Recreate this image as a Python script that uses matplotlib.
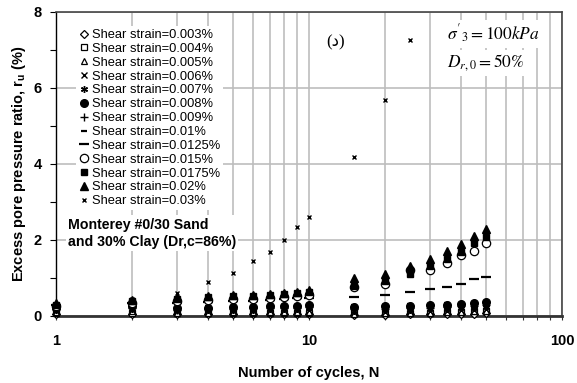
import matplotlib
matplotlib.use("Agg")
import matplotlib.pyplot as plt
from matplotlib.ticker import LogLocator, NullFormatter, FixedLocator

plt.rcParams['font.family'] = ['Liberation Sans', 'DejaVu Sans']
plt.rcParams['mathtext.fontset'] = 'stix'

cycles = [1, 2, 3, 4, 5, 6, 7, 8, 9, 10, 15, 20, 25, 30, 35, 40, 45, 50]
cycles_030 = [1, 2, 3, 4, 5, 6, 7, 8, 9, 10, 15, 20, 25]

s003 = [0.05, 0.06, 0.04, 0.04, 0.05, 0.05, 0.05, 0.05, 0.05, 0.05, 0.03, 0.03, 0.04, 0.04, 0.05, 0.05, 0.06, 0.07]
s004 = [0.08, 0.09, 0.07, 0.07, 0.08, 0.08, 0.08, 0.08, 0.08, 0.08, 0.08, 0.08, 0.09, 0.09, 0.10, 0.11, 0.12, 0.13]
s005 = [0.10, 0.12, 0.09, 0.09, 0.10, 0.10, 0.10, 0.10, 0.10, 0.10, 0.06, 0.07, 0.08, 0.09, 0.10, 0.11, 0.12, 0.14]
s006 = [0.12, 0.15, 0.12, 0.13, 0.14, 0.14, 0.15, 0.15, 0.15, 0.16, 0.10, 0.11, 0.12, 0.13, 0.14, 0.15, 0.16, 0.18]
s007 = [0.16, 0.18, 0.15, 0.16, 0.17, 0.17, 0.18, 0.18, 0.19, 0.20, 0.14, 0.15, 0.17, 0.18, 0.19, 0.20, 0.22, 0.24]
s008 = [0.22, 0.25, 0.20, 0.22, 0.24, 0.24, 0.25, 0.26, 0.27, 0.28, 0.24, 0.25, 0.27, 0.28, 0.30, 0.31, 0.33, 0.36]
s009 = [0.18, 0.20, 0.17, 0.18, 0.19, 0.20, 0.21, 0.21, 0.22, 0.23, 0.18, 0.19, 0.21, 0.22, 0.24, 0.25, 0.27, 0.29]
s010 = [0.25, 0.30, 0.22, 0.25, 0.27, 0.27, 0.28, 0.29, 0.30, 0.31, 0.28, 0.29, 0.31, 0.32, 0.33, 0.35, 0.37, 0.40]
s0125 = [0.28, 0.35, 0.35, 0.38, 0.40, 0.40, 0.42, 0.44, 0.46, 0.48, 0.51, 0.55, 0.64, 0.70, 0.75, 0.83, 0.97, 1.02]
s015 = [0.25, 0.33, 0.40, 0.42, 0.45, 0.45, 0.48, 0.50, 0.52, 0.55, 0.75, 0.85, 1.21, 1.21, 1.40, 1.60, 1.71, 1.93]
s0175 = [0.30, 0.40, 0.45, 0.50, 0.52, 0.52, 0.55, 0.57, 0.60, 0.62, 0.80, 0.92, 1.10, 1.32, 1.50, 1.69, 1.91, 2.09]
s020 = [0.33, 0.42, 0.50, 0.52, 0.55, 0.56, 0.58, 0.60, 0.63, 0.68, 0.99, 1.10, 1.32, 1.49, 1.72, 1.89, 2.10, 2.29]
s030 = [0.30, 0.45, 0.61, 0.89, 1.12, 1.45, 1.68, 2.00, 2.35, 2.60, 4.17, 5.68, 7.26]

labels = ['Shear strain=0.003%', 'Shear strain=0.004%', 'Shear strain=0.005%',
          'Shear strain=0.006%', 'Shear strain=0.007%', 'Shear strain=0.008%',
          'Shear strain=0.009%', 'Shear strain=0.01%', 'Shear strain=0.0125%',
          'Shear strain=0.015%', 'Shear strain=0.0175%', 'Shear strain=0.02%',
          'Shear strain=0.03%']

fig = plt.figure(figsize=(5.77, 3.83), dpi=100)
ax = fig.add_axes([0.097, 0.175, 0.877, 0.794])

series = [
    (cycles, s003, dict(marker='D', ms=4.0, mfc='white', mec='black', mew=0.9)),
    (cycles, s004, dict(marker='s', ms=4.5, mfc='white', mec='black', mew=0.9)),
    (cycles, s005, dict(marker='^', ms=5.0, mfc='white', mec='black', mew=0.9)),
    (cycles, s006, dict(marker='x', ms=4.5, mec='black', mew=1.0)),
    (cycles, s007, dict(marker=(6, 2, 0), ms=5.0, mec='black', mew=1.0)),
    (cycles, s008, dict(marker='o', ms=5.5, mfc='black', mec='black')),
    (cycles, s009, dict(marker='+', ms=5.5, mec='black', mew=1.0)),
    (cycles, s010, dict(marker='_', ms=4.0, mec='black', mew=1.6)),
    (cycles, s0125, dict(marker='_', ms=7.0, mec='black', mew=1.6)),
    (cycles, s015, dict(marker='o', ms=6.0, mfc='white', mec='black', mew=0.9)),
    (cycles, s0175, dict(marker='s', ms=5.0, mfc='black', mec='black')),
    (cycles, s020, dict(marker='^', ms=5.5, mfc='black', mec='black')),
    (cycles_030, s030, dict(marker='x', ms=3.5, mec='black', mew=1.0)),
]

for (xs, ys, st), lab in zip(series, labels):
    ax.plot(xs, ys, linestyle='none', label=lab, clip_on=False, zorder=3, **st)

ax.set_xscale('log')
ax.set_xlim(1, 100)
ax.set_ylim(0, 8)
ax.xaxis.set_major_locator(FixedLocator([1, 10, 100]))
ax.xaxis.set_minor_locator(LogLocator(base=10, subs=range(2, 10)))
ax.xaxis.set_minor_formatter(NullFormatter())
ax.set_xticklabels(['1', '10', '100'])
ax.set_yticks([0, 2, 4, 6, 8])
ax.yaxis.set_minor_locator(FixedLocator([1, 3, 5, 7]))

ax.grid(True, which='both', axis='x', color='#bdbdbd', linewidth=1.2, zorder=0)
ax.grid(True, which='major', axis='y', color='#bdbdbd', linewidth=1.2, zorder=0)
ax.set_axisbelow(True)

for lbl in ax.get_xticklabels() + ax.get_yticklabels():
    lbl.set_fontweight('bold')
    lbl.set_fontsize(10.5)
ax.tick_params(axis='x', which='both', direction='out', length=3, width=0.8, pad=10, colors='#333333', labelcolor='black')
ax.tick_params(axis='y', which='both', direction='out', length=4, width=0.8, pad=6, labelcolor='black')

ax.spines['bottom'].set_linewidth(2.0)
ax.spines['bottom'].set_color('#333333')
ax.spines['left'].set_linewidth(1.0)
ax.spines['left'].set_color('black')
ax.spines['top'].set_linewidth(1.2)
ax.spines['top'].set_color('#444444')
ax.spines['right'].set_linewidth(1.2)
ax.spines['right'].set_color('#444444')

ax.set_xlabel('Number of cycles, N', fontsize=10.5, fontweight='bold', labelpad=13)
ax.set_ylabel('Excess pore pressure ratio, r$_\\mathregular{u}$ (%)', fontsize=10.5, fontweight='bold', labelpad=4)

leg = ax.legend(loc='upper left', bbox_to_anchor=(0.04, 0.952), frameon=True, fontsize=9.3,
                handlelength=0.8, handletextpad=0.2, labelspacing=0.14, borderpad=0.2,
                borderaxespad=0.0, numpoints=1)
leg.get_frame().set_edgecolor('none')
leg.get_frame().set_facecolor('white')
leg.get_frame().set_alpha(1.0)

ax.text(0.024, 0.272, 'Monterey #0/30 Sand\nand 30% Clay (Dr,c=86%)', transform=ax.transAxes,
        fontsize=10.2, fontweight='bold', ha='left', va='center', linespacing=1.3,
        bbox=dict(facecolor='white', edgecolor='none', pad=1.5), zorder=4)

ax.text(0.553, 0.9, '(\u062F)', transform=ax.transAxes, fontsize=12,
        family=['Liberation Serif', 'DejaVu Sans'], ha='center', va='center', zorder=4)

ax.text(0.773, 0.927, "$\\sigma'_3 = 100kPa$", transform=ax.transAxes, fontsize=12.5,
        ha='left', va='center', bbox=dict(facecolor='white', edgecolor='none', pad=2), zorder=4)
ax.text(0.773, 0.832, "$D_{r,0} = 50\\%$", transform=ax.transAxes, fontsize=12.5,
        ha='left', va='center', bbox=dict(facecolor='white', edgecolor='none', pad=2), zorder=4)

fig.savefig('out.png', dpi=100)
